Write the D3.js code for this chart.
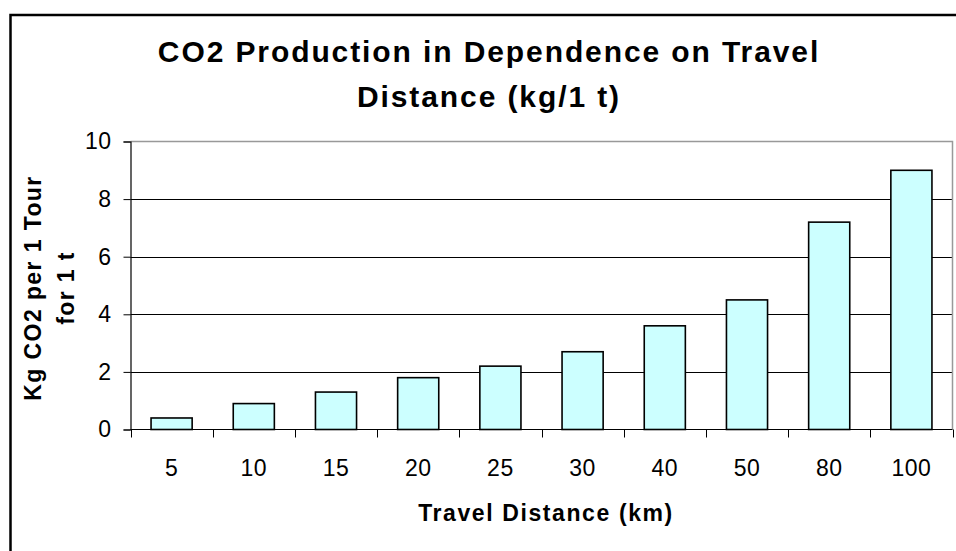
<!DOCTYPE html>
<html>
<head>
<meta charset="utf-8">
<script src="https://cdn.jsdelivr.net/npm/d3@7"></script>
<style>
  html, body { margin: 0; padding: 0; background: #fff; }
  svg { display: block; }
  text { font-family: "Liberation Sans", Arial, sans-serif; fill: #000; }
</style>
</head>
<body>
<svg id="chart" width="956" height="551"></svg>
<script>
const categories = ["5", "10", "15", "20", "25", "30", "40", "50", "80", "100"];
const values = [0.4, 0.9, 1.3, 1.8, 2.2, 2.7, 3.6, 4.5, 7.2, 9.0];
const yTicks = [0, 2, 4, 6, 8, 10];
const titleLines = ["CO2 Production in Dependence on Travel", "Distance (kg/1 t)"];
const yTitleLines = ["Kg CO2 per 1 Tour", "for 1 t"];
const xTitle = "Travel Distance (km)";

const svg = d3.select("#chart");
const plot = { left: 130.5, right: 952.5, top: 141.5, bottom: 429.5 };

const x = d3.scaleBand().domain(categories).range([plot.left, plot.right])
  .paddingInner(0.5).paddingOuter(0.25);
const y = d3.scaleLinear().domain([0, 10]).range([plot.bottom, plot.top]);

// outer frame
svg.append("rect").attr("x", 10.5).attr("y", 15).attr("width", 1000).attr("height", 600)
  .attr("fill", "none").attr("stroke", "#000").attr("stroke-width", 2.5);

// title
const title = svg.append("text").attr("text-anchor", "middle")
  .style("font-size", "30px").style("font-weight", "bold").style("letter-spacing", "1.9px");
titleLines.forEach((t, i) => {
  title.append("tspan").attr("x", 489).attr("y", 62 + i * 45).text(t);
});

// gridlines
svg.append("g").selectAll("line").data(yTicks.filter(d => d > 0 && d < 10)).join("line")
  .attr("x1", plot.left).attr("x2", plot.right)
  .attr("y1", d => Math.round(y(d)) + 0.5).attr("y2", d => Math.round(y(d)) + 0.5)
  .attr("stroke", "#000").attr("stroke-width", 1);

// plot border top/right (grey)
svg.append("path")
  .attr("d", `M${plot.left},${plot.top}H${plot.right}V${plot.bottom}`)
  .attr("fill", "none").attr("stroke", "#999").attr("stroke-width", 1.5);

// bars
svg.append("g").selectAll("rect").data(values).join("rect")
  .attr("x", (d, i) => x(categories[i]))
  .attr("y", d => y(d))
  .attr("width", x.bandwidth())
  .attr("height", d => y(0) - y(d))
  .attr("fill", "#CCFFFF").attr("stroke", "#000").attr("stroke-width", 1.6);

// y axis
const yAxis = d3.axisLeft(y).tickValues(yTicks).tickSize(7).tickPadding(12).tickFormat(d3.format("d"));
const gy = svg.append("g").attr("transform", `translate(${plot.left},0)`).call(yAxis);
gy.select(".domain").attr("stroke", "#000").attr("stroke-width", 1.2);
gy.selectAll(".tick line").attr("stroke", "#000");
gy.selectAll(".tick text").style("font-size", "23px").style("font-family", "Liberation Sans, Arial, sans-serif")
  .style("letter-spacing", "0.5px").attr("fill", "#000");

// x axis
const xAxis = d3.axisBottom(x).tickSize(0).tickPadding(30);
const gx = svg.append("g").attr("transform", `translate(0,${plot.bottom})`).call(xAxis);
gx.select(".domain").remove();
gx.selectAll(".tick text").style("font-size", "23px").style("font-family", "Liberation Sans, Arial, sans-serif")
  .style("letter-spacing", "0.5px").attr("fill", "#000");
svg.append("line").attr("x1", plot.left).attr("x2", plot.right)
  .attr("y1", plot.bottom).attr("y2", plot.bottom).attr("stroke", "#000").attr("stroke-width", 1.2);
// x tick marks at category boundaries
const gap = (x.step() - x.bandwidth()) / 2;
const boundaries = categories.map(c => x(c) - gap).concat([plot.right]);
svg.append("g").selectAll("line").data(boundaries).join("line")
  .attr("x1", d => Math.round(d) + 0.5).attr("x2", d => Math.round(d) + 0.5)
  .attr("y1", plot.bottom).attr("y2", plot.bottom + 8)
  .attr("stroke", "#000").attr("stroke-width", 1);

// axis titles
svg.append("text").attr("x", 546).attr("y", 521).attr("text-anchor", "middle")
  .style("font-size", "23px").style("font-weight", "bold").style("letter-spacing", "1.6px")
  .text(xTitle);

const yt = svg.append("text").attr("text-anchor", "middle")
  .attr("transform", "translate(0,288) rotate(-90)")
  .style("font-size", "23px").style("font-weight", "bold").style("letter-spacing", "1.4px");
yTitleLines.forEach((t, i) => {
  yt.append("tspan").attr("x", 0).attr("y", 41 + i * 33).text(t);
});
</script>
</body>
</html>
